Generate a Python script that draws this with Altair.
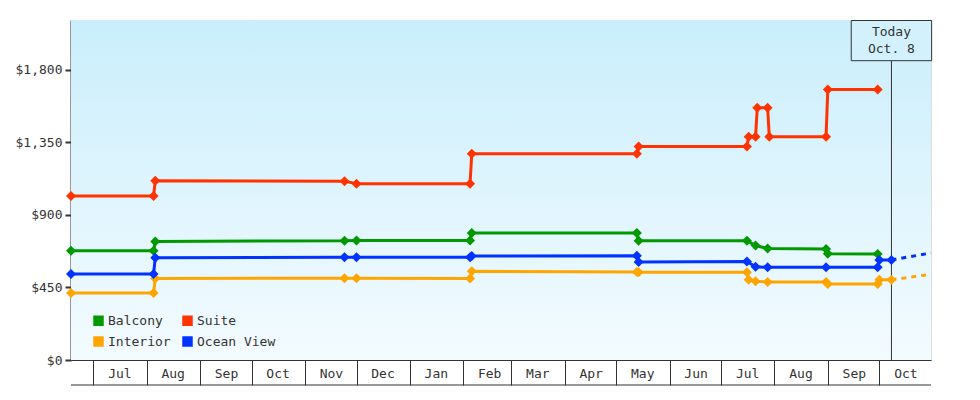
import altair as alt
import pandas as pd

# ---------------- data ----------------
series_names = ["Balcony", "Suite", "Interior", "Ocean View"]
series_colors = ["#009900", "#FF3300", "#FFA500", "#0033FF"]
# legend entries are laid out column by column (2 rows)
legend_order = ["Balcony", "Interior", "Suite", "Ocean View"]

balcony_dates = ["2018-06-18", "2018-08-05", "2018-08-06", "2018-11-24", "2018-12-01",
                 "2019-02-05", "2019-02-06", "2019-05-13", "2019-05-14", "2019-07-16",
                 "2019-07-21", "2019-07-28", "2019-08-31", "2019-09-01", "2019-09-30"]
balcony_prices = [678, 678, 736, 740, 742, 742, 788, 788, 740, 740, 710, 692, 689, 660, 658]

suite_dates = ["2018-06-18", "2018-08-05", "2018-08-06", "2018-11-24", "2018-12-01",
               "2019-02-05", "2019-02-06", "2019-05-13", "2019-05-14", "2019-07-16",
               "2019-07-17", "2019-07-21", "2019-07-22", "2019-07-28", "2019-07-29",
               "2019-08-31", "2019-09-01", "2019-09-30"]
suite_prices = [1018, 1018, 1113, 1110, 1094, 1094, 1280, 1280, 1325, 1325,
                1386, 1386, 1566, 1566, 1386, 1386, 1678, 1678]

interior_dates = ["2018-06-18", "2018-08-05", "2018-08-06", "2018-11-24", "2018-12-01",
                  "2019-02-05", "2019-02-06", "2019-05-13", "2019-05-14", "2019-07-16",
                  "2019-07-17", "2019-07-21", "2019-07-28", "2019-08-31", "2019-09-01",
                  "2019-09-30", "2019-10-01", "2019-10-08"]
interior_prices = [416, 416, 506, 508, 508, 506, 550, 546, 544, 544,
                   498, 488, 484, 484, 472, 472, 498, 498]

ocean_dates = ["2018-06-18", "2018-08-05", "2018-08-06", "2018-11-24", "2018-12-01",
               "2019-02-05", "2019-02-06", "2019-05-13", "2019-05-14", "2019-07-16",
               "2019-07-21", "2019-07-28", "2019-08-31", "2019-09-30", "2019-10-01",
               "2019-10-08"]
ocean_prices = [534, 534, 635, 638, 638, 638, 645, 647, 608, 612,
                578, 575, 575, 575, 621, 621]

# dashed projections after today
proj_series = ["Interior", "Ocean View"]
proj_dates = ["2019-10-08", "2019-10-31"]
interior_proj = [498, 532]
ocean_proj = [621, 664]

today_date = "2019-10-08"
today_line1 = "Today"
today_line2 = "Oct. 8"

y_ticks = [0, 450, 900, 1350, 1800]
y_domain = [0, 2110]

# ---------------- tables ----------------
rows = []
for name, ds, ps in zip(series_names,
                        [balcony_dates, suite_dates, interior_dates, ocean_dates],
                        [balcony_prices, suite_prices, interior_prices, ocean_prices]):
    for i, (d, p) in enumerate(zip(ds, ps)):
        rows.append({"series": name, "date": d, "price": p, "idx": i})
df = pd.DataFrame(rows)

prow = []
for name, ps in zip(proj_series, [interior_proj, ocean_proj]):
    for i, (d, p) in enumerate(zip(proj_dates, ps)):
        prow.append({"series": name, "date": d, "price": p, "idx": i})
proj_df = pd.DataFrame(prow)

today_df = pd.DataFrame({"date": [today_date], "l1": [today_line1], "l2": [today_line2]})
one = pd.DataFrame({"k": [0]})

# ---------------- style ----------------
W, H = 860, 340
FONT = "DejaVu Sans Mono"
INK = "#333333"

xscale = alt.Scale(type="utc", domain=[alt.DateTime(year=2018, month=6, date=18, utc=True),
                                       alt.DateTime(year=2019, month=10, date=31, utc=True)])
yscale = alt.Scale(domain=y_domain, nice=False, zero=True)
cmap = dict(zip(series_names, series_colors))
# legend (fill) scale in legend order
cscale = alt.Scale(domain=legend_order, range=[cmap[n] for n in legend_order])
# line (stroke) scale: same mapping, other domain order so that its (hidden)
# legend is not merged with the visible one
line_order = sorted(series_names)
sscale = alt.Scale(domain=line_order, range=[cmap[n] for n in line_order])

x_axis = alt.Axis(title=None, labelExpr="utcFormat(datum.value, '%b')",
                  tickCount=alt.TimeIntervalStep(interval="month", step=1),
                  tickSize=25, tickColor=INK, tickWidth=1,
                  domainColor=INK, domainWidth=1,
                  labelFont=FONT, labelFontSize=13, labelColor=INK,
                  labelOffset=26, labelPadding=-12, labelBaseline="middle",
                  labelFlush=False, labelOverlap=False, labelBound=False, grid=False)
y_axis = alt.Axis(title=None, values=y_ticks, format="$,.0f",
                  tickSize=6, tickWidth=2, tickColor=INK,
                  domainColor=INK, domainWidth=2,
                  labelFont=FONT, labelFontSize=13, labelColor=INK,
                  labelPadding=3, grid=False)

X = alt.X("date:T", scale=xscale, axis=x_axis)
Y = alt.Y("price:Q", scale=yscale, axis=y_axis)

bg = alt.Chart(one).mark_rect(
    fill=alt.LinearGradient(gradient="linear",
                            stops=[alt.GradientStop(color="#CAEEFC", offset=0),
                                   alt.GradientStop(color="#F3FBFF", offset=1)],
                            x1=0, x2=0, y1=0, y2=1)
).encode(x=alt.value(0), x2=alt.value(W), y=alt.value(0), y2=alt.value(H))

today_rule = alt.Chart(today_df).mark_rule(color=INK, strokeWidth=1).encode(
    x=X, y=alt.value(40.7), y2=alt.value(H))

lines = alt.Chart(df).mark_line(strokeWidth=3).encode(
    x=X, y=Y, stroke=alt.Stroke("series:N", scale=sscale, legend=None), order="idx:Q")

proj = alt.Chart(proj_df).mark_line(strokeWidth=3, strokeDash=[5, 5]).encode(
    x=X, y=Y, stroke=alt.Stroke("series:N", scale=sscale, legend=None), order="idx:Q")

points = alt.Chart(df).mark_point(shape="diamond", filled=True, size=100, opacity=1).encode(
    x=X, y=Y,
    color=alt.Color("series:N", scale=cscale,
                    legend=alt.Legend(title=None, orient="none", legendX=21, legendY=294,
                                      columns=2, symbolType="square", symbolSize=110,
                                      symbolStrokeWidth=0, symbolOpacity=1,
                                      labelFont=FONT, labelFontSize=13, labelColor=INK,
                                      labelOffset=3, rowPadding=7, columnPadding=10,
                                      padding=0)))

box = alt.Chart(today_df).mark_rect(fill="#D2F1FC", stroke=INK, strokeWidth=1,
                                    xOffset=-40.2, x2Offset=40.2).encode(
    x=X, x2="date:T", y=alt.value(0.5), y2=alt.value(40.7))

t1 = alt.Chart(today_df).mark_text(font=FONT, fontSize=13, color=INK, baseline="middle").encode(
    x=X, y=alt.value(12), text="l1:N")
t2 = alt.Chart(today_df).mark_text(font=FONT, fontSize=13, color=INK, baseline="middle").encode(
    x=X, y=alt.value(29), text="l2:N")

bottom = alt.Chart(one).mark_rule(color=INK, strokeWidth=1).encode(
    x=alt.value(0), x2=alt.value(W), y=alt.value(H + 25))

chart = alt.layer(bg, today_rule, lines, proj, points, box, t1, t2, bottom).properties(
    width=W, height=H,
    autosize=alt.AutoSizeParams(type="none"),
    padding={"left": 63, "top": 12, "right": 39, "bottom": 26},
).configure_view(strokeWidth=0).configure(background="white")

chart.save("out.html", embed_options={"renderer": "svg", "actions": False})
